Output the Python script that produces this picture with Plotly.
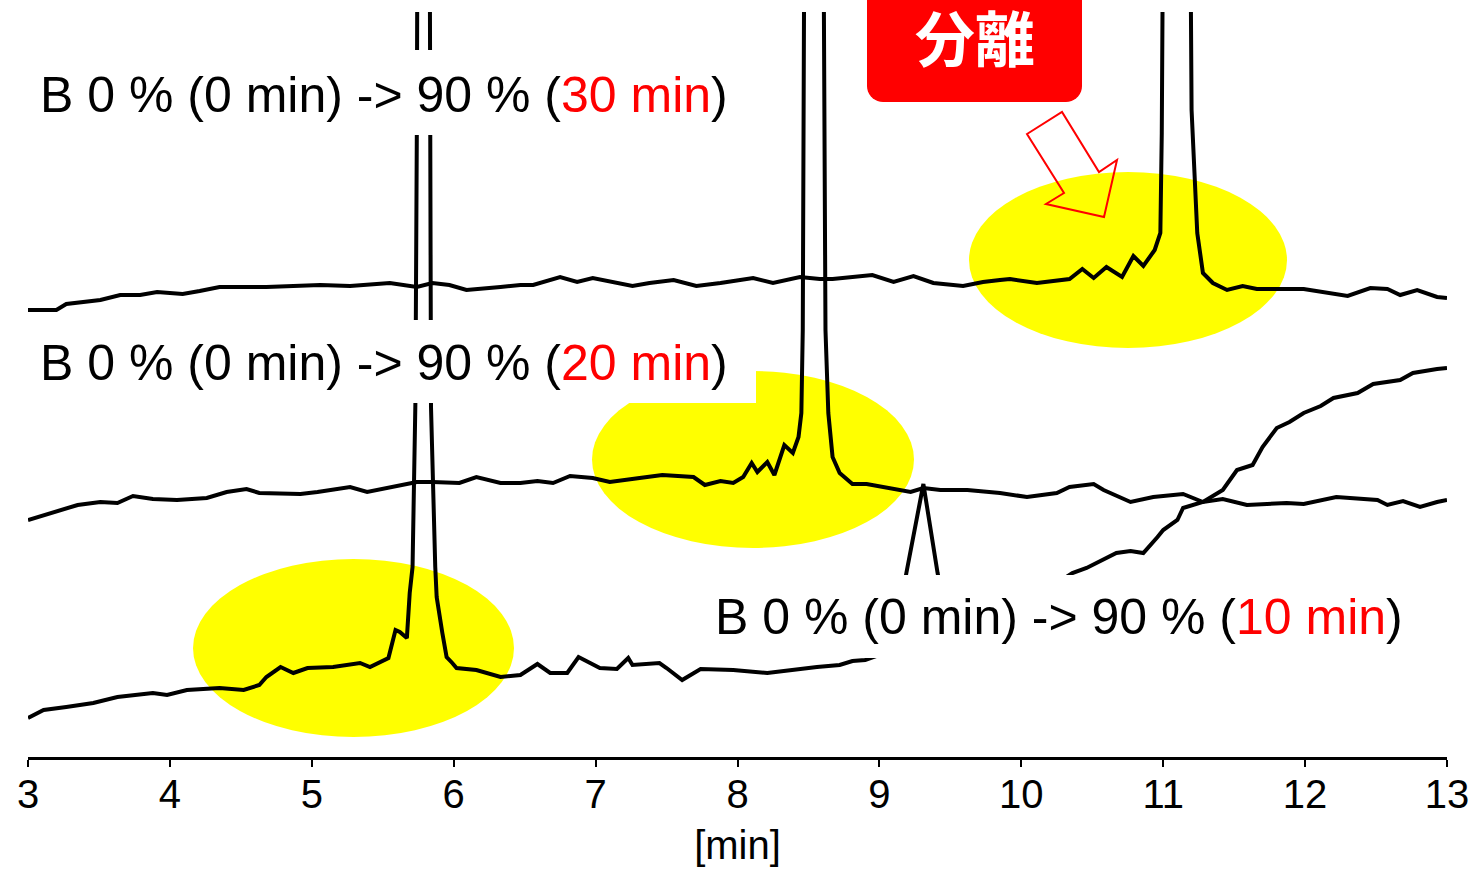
import math
import plotly.graph_objects as go

# ---- chromatogram data: retention time [min] and detector signal (a.u.) ----
# gradient B 0 % -> 90 % over 30 min
time_30 = [3.00, 3.20, 3.27, 3.51, 3.65, 3.79, 3.91, 4.09, 4.21, 4.35, 4.68, 4.92, 5.06,
           5.27, 5.55, 5.74, 5.85, 5.97, 6.09, 6.33, 6.47, 6.56, 6.75, 6.87, 6.98, 7.26,
           7.38, 7.55, 7.71, 7.88, 8.11, 8.25, 8.44, 8.58, 8.67, 8.95, 9.10, 9.24, 9.38,
           9.59, 9.73, 9.85, 9.92, 10.11, 10.34, 10.43, 10.51, 10.60, 10.71, 10.79, 10.86,
           10.94, 10.98, 10.99, 11.09, 11.20, 11.24, 11.28, 11.35, 11.45, 11.56, 11.66,
           11.99, 12.30, 12.46, 12.58, 12.67, 12.79, 12.93, 13.00]
signal_30 = [447, 447, 453, 457, 462, 462, 465, 463, 466, 470, 470, 471, 472,
             471, 474, 470, 474, 472, 467, 470, 472, 472, 480, 475, 479, 471,
             474, 477, 471, 474, 479, 474, 480, 478, 478, 482, 475, 481, 474,
             471, 475, 477, 478, 474, 478, 488, 479, 490, 480, 501, 491,
             507, 524, 624, 3000, 647, 524, 484, 474, 467, 471, 468,
             468, 461, 469, 468, 462, 467, 460, 459]

# gradient B 0 % -> 90 % over 20 min
time_20 = [3.00, 3.16, 3.35, 3.51, 3.63, 3.74, 3.88, 4.05, 4.26, 4.40, 4.54, 4.63, 4.92,
           5.04, 5.27, 5.39, 5.62, 5.74, 5.85, 6.04, 6.16, 6.33, 6.47, 6.59, 6.70, 6.82,
           6.98, 7.10, 7.31, 7.47, 7.69, 7.77, 7.88, 7.97, 8.04, 8.10, 8.14, 8.21, 8.26,
           8.33, 8.39, 8.43, 8.45, 8.46, 8.53, 8.62, 8.64, 8.67, 8.72, 8.81, 8.91, 9.10,
           9.22, 9.31, 9.43, 9.62, 9.85, 10.04, 10.25, 10.34, 10.51, 10.58, 10.77, 10.93,
           11.14, 11.28, 11.42, 11.59, 11.87, 11.99, 12.22, 12.51, 12.58, 12.69, 12.81,
           12.93, 13.00]
signal_20 = [237, 244, 252, 255, 254, 261, 258, 257, 259, 265, 268, 264, 263,
             265, 270, 265, 272, 275, 275, 274, 280, 274, 274, 276, 274, 281,
             279, 275, 279, 282, 280, 272, 276, 274, 280, 294, 285, 295, 282,
             312, 304, 320, 344, 427, 3000, 427, 344, 300, 284, 273, 273, 268,
             265, 269, 267, 267, 264, 260, 264, 270, 273, 267, 255, 260,
             263, 255, 258, 252, 254, 253, 260, 257, 252, 256, 250,
             255, 257]

# gradient B 0 % -> 90 % over 10 min
time_10 = [3.00, 3.11, 3.27, 3.46, 3.63, 3.88, 3.98, 4.12, 4.35, 4.52, 4.63, 4.68, 4.78,
           4.87, 4.97, 5.15, 5.34, 5.41, 5.54, 5.59, 5.62, 5.67, 5.69, 5.71, 5.73, 5.74,
           5.79, 5.83, 5.84, 5.87, 5.88, 5.92, 5.95, 5.99, 6.02, 6.16, 6.33, 6.47, 6.59,
           6.68, 6.80, 6.88, 7.03, 7.15, 7.23, 7.26, 7.45, 7.50, 7.61, 7.74, 7.97, 8.21,
           8.37, 8.56, 8.72, 8.81, 8.90, 9.00, 9.10, 9.19, 9.31, 9.41, 9.50, 9.80, 10.10,
           10.36, 10.46, 10.58, 10.67, 10.77, 10.86, 10.96, 11.00, 11.10, 11.14, 11.28,
           11.42, 11.52, 11.63, 11.70, 11.80, 11.89, 11.99, 12.11, 12.20, 12.37, 12.48,
           12.67, 12.76, 12.93, 13.00]
signal_10 = [39, 47, 50, 54, 60, 64, 62, 67, 69, 67, 72, 80, 90,
             84, 89, 90, 94, 90, 99, 127, 125, 119, 164, 190, 354, 622,
             3000, 600, 350, 190, 160, 124, 100, 94, 89, 87, 80, 82, 93,
             84, 84, 100, 89, 88, 99, 92, 94, 89, 77, 88, 87, 84,
             87, 90, 92, 96, 97, 102, 110, 184, 273, 184, 120, 135, 160,
             184, 189, 197, 204, 206, 204, 220, 227, 237, 249, 255,
             267, 287, 292, 310, 329, 335, 344, 351, 359, 364, 373,
             377, 384, 388, 389]

tick_values = [3, 4, 5, 6, 7, 8, 9, 10, 11, 12, 13]
tick_labels = ["3", "4", "5", "6", "7", "8", "9", "10", "11", "12", "13"]

gradient_labels = ["30 min", "20 min", "10 min"]
highlight_label = "分離"

# ---- page geometry ----
W, H = 1470, 869
ML, MR, MT, MB = 28, 23, 12, 112
X_RANGE = [3, 13]
Y_RANGE = [0, 745]
PW, PH = W - ML - MR, H - MT - MB


def px_x(px):
    return X_RANGE[0] + (px - ML) * (X_RANGE[1] - X_RANGE[0]) / PW


def px_y(py):
    return Y_RANGE[0] + (H - MB - py) * (Y_RANGE[1] - Y_RANGE[0]) / PH


def paper_x(px):
    return (px - ML) / PW


def paper_y(py):
    return (H - MB - py) / PH


FONT = "Liberation Sans, Arial, sans-serif"
RED = "#ff0000"
YELLOW = "#ffff00"

fig = go.Figure()
for t, s in [(time_30, signal_30), (time_20, signal_20), (time_10, signal_10)]:
    fig.add_trace(go.Scatter(x=t, y=s, mode="lines",
                             line=dict(color="black", width=4),
                             hoverinfo="skip", showlegend=False))

shapes = []
# yellow highlight ellipses behind the traces
for (x0, y0, x1, y1) in [(969, 172, 1287, 348), (592, 371, 914, 548), (193, 559, 514, 737)]:
    shapes.append(dict(type="circle", xref="x", yref="y", layer="below",
                       x0=px_x(x0), x1=px_x(x1), y0=px_y(y1), y1=px_y(y0),
                       fillcolor=YELLOW, line=dict(width=0)))

# white label panels covering the traces
for (x0, y0, x1, y1) in [(30, 50, 735, 135), (30, 320, 756, 403), (700, 575, 1410, 658)]:
    shapes.append(dict(type="rect", xref="x", yref="y", layer="above",
                       x0=px_x(x0), x1=px_x(x1), y0=px_y(y1), y1=px_y(y0),
                       fillcolor="white", line=dict(width=0)))


def path_from(points, fx, fy):
    parts = []
    for i, (px, py) in enumerate(points):
        parts.append(("M" if i == 0 else "L") + f"{fx(px):.5f},{fy(py):.5f}")
    return " ".join(parts) + " Z"


# red callout box with rounded lower corners (extends past the top edge)
bx0, bx1, by0, by1, r = 867, 1082, -20, 102, 16
box_pts = [(bx0, by0), (bx1, by0), (bx1, by1 - r)]
for k in range(0, 91, 10):
    a = math.radians(k)
    box_pts.append((bx1 - r + r * math.cos(a), by1 - r + r * math.sin(a)))
for k in range(90, 181, 10):
    a = math.radians(k)
    box_pts.append((bx0 + r + r * math.cos(a), by1 - r + r * math.sin(a)))
shapes.append(dict(type="path", xref="paper", yref="paper", layer="above",
                   path=path_from(box_pts, paper_x, paper_y),
                   fillcolor=RED, line=dict(width=0)))

# hollow arrow pointing at the separated peaks
arrow_pts = [(1027, 134), (1062, 112), (1099, 172), (1117, 160), (1104, 217), (1046, 204), (1064, 193)]
shapes.append(dict(type="path", xref="x", yref="y", layer="above",
                   path=path_from(arrow_pts, px_x, px_y), fillcolor="rgba(0,0,0,0)",
                   line=dict(color=RED, width=2)))

annotations = []
for label, (px, py) in zip(gradient_labels, [(38, 95), (38, 363), (713, 617)]):
    annotations.append(dict(
        xref="x", yref="y", x=px_x(px), y=px_y(py), xanchor="left", yanchor="middle",
        showarrow=False,
        text=f"B 0 % (0 min) -&gt; 90 % (<span style='color:{RED}'>{label}</span>)",
        font=dict(family=FONT, size=50, color="black")))

annotations.append(dict(
    xref="paper", yref="paper", x=paper_x(975), y=paper_y(36), xanchor="center", yanchor="middle",
    showarrow=False, text=f"<b>{highlight_label}</b>",
    font=dict(family="Noto Sans CJK JP", size=60, color="white")))

fig.update_layout(
    width=W, height=H,
    margin=dict(l=ML, r=MR, t=MT, b=MB, pad=0, autoexpand=False),
    paper_bgcolor="white", plot_bgcolor="white",
    shapes=shapes, annotations=annotations,
    xaxis=dict(range=X_RANGE, tickmode="array", tickvals=tick_values, ticktext=tick_labels,
               automargin=False, ticklabeloverflow="allow",
               showline=True, linecolor="black", linewidth=3, mirror=False,
               ticks="outside", ticklen=7, tickwidth=2, tickcolor="black",
               ticklabelstandoff=-7,
               showgrid=False, zeroline=False,
               tickfont=dict(family=FONT, size=40, color="black"),
               title=dict(text="[min]", font=dict(family=FONT, size=40, color="black"),
                          standoff=16)),
    yaxis=dict(range=Y_RANGE, visible=False, showgrid=False, zeroline=False, automargin=False),
)

fig.write_html("out.html")
